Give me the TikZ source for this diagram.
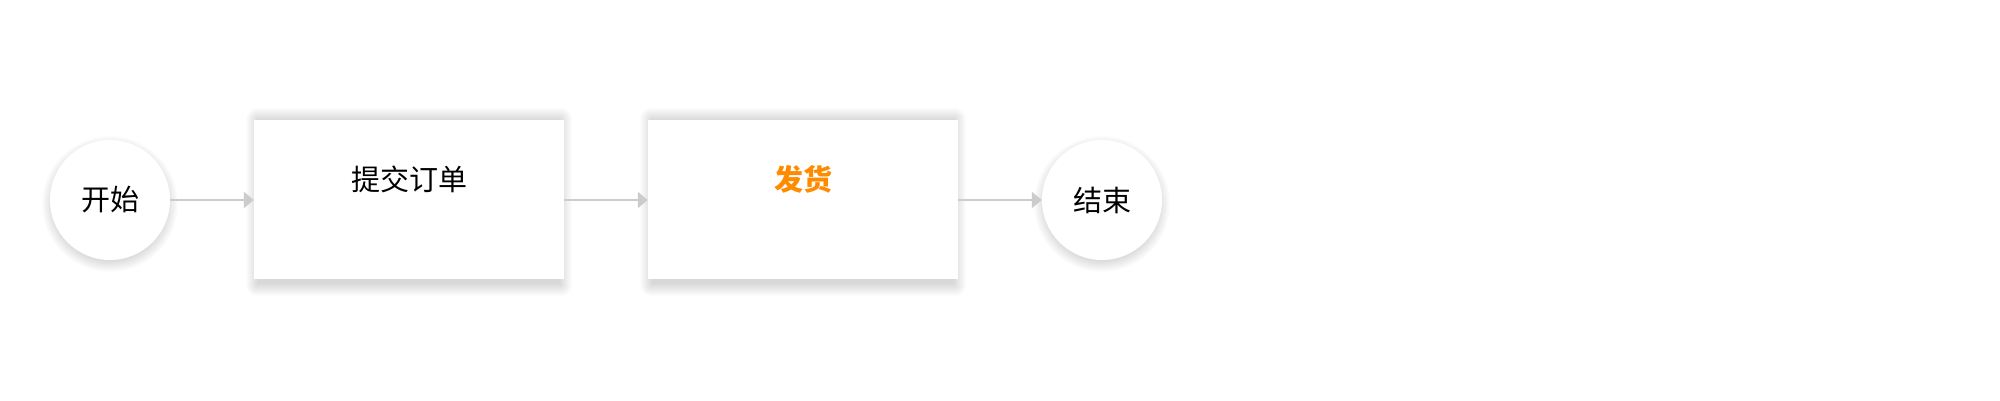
\documentclass[tikz,border=0pt]{standalone}
\usepackage{fontspec}
\newfontfamily\cjk{Noto Sans CJK SC}
\usetikzlibrary{arrows.meta, positioning, backgrounds}
\definecolor{linegray}{HTML}{CCCCCC}
\definecolor{shiporange}{HTML}{FF8C00}

\begin{document}
\begin{tikzpicture}[
    x=1pt, y=-1pt,
    terminal/.style = {circle, minimum size=120pt, inner sep=0pt, fill=white, font=\cjk\fontsize{29}{33}\selectfont},
    stepbox/.style = {rectangle, minimum width=310pt, minimum height=159pt, inner sep=0pt, fill=white},
    title/.style = {font=\cjk\fontsize{29}{33}\selectfont, inner sep=0pt},
    shade/.style = {fill=black, opacity=0.010},
    arrow/.style = {-{Triangle[width=16pt, length=10pt]}, draw=linegray, line width=2pt}
]

% Canvas
\useasboundingbox (0,0) rectangle (2000,400);

% Nodes - start and end
\node (start) [terminal] at (110, 200) {开始};
\node (finish) [terminal] at (1102, 200) {结束};

% Nodes - steps
\node (order) [stepbox] at (409, 199.5) {};
\node (ship) [stepbox] at (803, 199.5) {};
\node (ordertitle) [title] at ([yshift=-60pt]order.north) {提交订单};
\node (shiptitle) [title, font=\cjk\bfseries\fontsize{29}{33}\selectfont, text=shiporange] at ([yshift=-60pt]ship.north) {发货};

% Soft shadows behind the shapes
\begin{scope}[on background layer]
    \fill[white] (0,0) rectangle (2000,400);
    \foreach \n in {start, finish}
        \foreach \r in {0,...,12}
            \fill[shade] ([yshift=-4pt]\n.center) circle (56pt+\r pt);
    \foreach \n in {order, ship}
        \foreach \r in {0,...,12}
            \fill[shade, rounded corners=\r pt] ([shift={(4pt-\r pt,-5pt-\r pt)}]\n.south west)
                rectangle ([shift={(\r pt-4pt,\r pt)}]\n.north east);
\end{scope}

% Arrows
\draw [arrow] (start.east) -- (order.west |- start.east);
\draw [arrow] (order.east |- start.east) -- (ship.west |- start.east);
\draw [arrow] (ship.east |- start.east) -- (finish.west);

\end{tikzpicture}
\end{document}
